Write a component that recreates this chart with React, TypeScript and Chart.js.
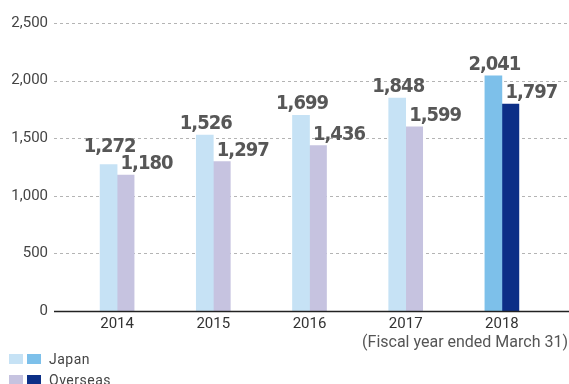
import React, { useEffect, useRef } from "react";
import { Chart, registerables } from "chart.js";

Chart.register(...registerables);

const years = ["2014", "2015", "2016", "2017", "2018"];
const japan = [1272, 1526, 1699, 1848, 2041];
const overseas = [1180, 1297, 1436, 1599, 1797];
const japanColors = ["#c6e2f5", "#c6e2f5", "#c6e2f5", "#c6e2f5", "#7dc0ea"];
const overseasColors = ["#c6c3e0", "#c6c3e0", "#c6c3e0", "#c6c3e0", "#0c2f87"];
const yTicks = [0, 500, 1000, 1500, 2000, 2500];

const W = 569;
const H = 384;
const GRID_LEFT = 54;
const LABEL_CAP = 15;

const fmt = (v: number) => v.toLocaleString("en-US");

const customPlugin = {
  id: "custom",
  beforeDatasetsDraw(chart: any) {
    const ctx = chart.ctx;
    const y = chart.scales.y;
    ctx.save();
    ctx.strokeStyle = "#b4b4b4";
    ctx.lineWidth = 1;
    ctx.setLineDash([3, 3]);
    yTicks.forEach((t) => {
      if (t === 0) return;
      const py = Math.round(y.getPixelForValue(t)) + 0.5;
      ctx.beginPath();
      ctx.moveTo(GRID_LEFT, py);
      ctx.lineTo(W, py);
      ctx.stroke();
    });
    ctx.restore();
  },
  afterDatasetsDraw(chart: any) {
    const ctx = chart.ctx;
    const y = chart.scales.y;
    ctx.save();
    const py0 = Math.round(y.getPixelForValue(0));
    ctx.strokeStyle = "#222";
    ctx.lineWidth = 1.5;
    ctx.beginPath();
    ctx.moveTo(GRID_LEFT, py0 + 0.5);
    ctx.lineTo(W, py0 + 0.5);
    ctx.stroke();
    ctx.fillStyle = "#575757";
    ctx.font = "bold 20px 'DejaVu Sans Condensed', 'DejaVu Sans', sans-serif";
    (ctx as any).letterSpacing = "-1px";
    ctx.textBaseline = "alphabetic";
    const m0 = chart.getDatasetMeta(0);
    const m1 = chart.getDatasetMeta(1);
    m1.data.forEach((el: any, i: number) => {
      const oBase = el.y - 6;
      ctx.textAlign = "left";
      ctx.fillText(fmt(overseas[i]), el.x - 5, oBase);
      const j = m0.data[i];
      const jBase = Math.min(j.y - 6, oBase - LABEL_CAP - 2);
      ctx.textAlign = "center";
      ctx.fillText(fmt(japan[i]), j.x + 1, jBase);
    });
    (ctx as any).letterSpacing = "0px";
    ctx.restore();
  },
};

export default function App() {
  const ref = useRef<HTMLCanvasElement>(null);
  useEffect(() => {
    if (!ref.current) return;
    const chart = new Chart(ref.current, {
      type: "bar",
      data: {
        labels: years,
        datasets: [
          {
            label: "Japan",
            data: japan,
            backgroundColor: japanColors,
            barThickness: 17,
            borderWidth: 0,
          },
          {
            label: "Overseas",
            data: overseas,
            backgroundColor: overseasColors,
            barThickness: 17,
            borderWidth: 0,
          },
        ],
      },
      options: {
        animation: false,
        responsive: false,
        maintainAspectRatio: false,
        layout: { padding: { top: 23, right: 19, bottom: 0, left: 0 } },
        plugins: {
          legend: { display: false },
          tooltip: { enabled: false },
        },
        scales: {
          x: {
            grid: { display: false, drawTicks: false },
            border: { display: false },
            ticks: {
              color: "#333",
              font: { family: "Roboto, 'DejaVu Sans', sans-serif", size: 15 },
              padding: 4,
            },
            afterFit: (s: any) => {
              s.height = 73;
              s.paddingLeft = 0;
              s.paddingRight = 0;
            },
          },
          y: {
            min: 0,
            max: 2500,
            grid: { display: false, drawTicks: false },
            border: { display: false },
            ticks: {
              stepSize: 500,
              color: "#444",
              font: { family: "Roboto, 'DejaVu Sans', sans-serif", size: 15 },
              padding: 21,
              callback: (v: any) => fmt(Number(v)),
            },
            afterFit: (s: any) => {
              s.width = 69;
              s.paddingTop = 0;
              s.paddingBottom = 0;
            },
          },
        },
      },
      plugins: [customPlugin],
    });
    return () => chart.destroy();
  }, []);

  const textFont = "Roboto, 'DejaVu Sans', sans-serif";
  const sq = (c: string, left: number, top: number) => (
    <div
      style={{ position: "absolute", left, top, width: 14, height: 10, background: c }}
    />
  );
  return (
    <div style={{ position: "fixed", left: 0, top: 0, width: W, height: H, overflow: "hidden", background: "#fff" }}>
      <canvas ref={ref} width={W} height={H} style={{ position: "absolute", left: 0, top: 0, width: W, height: H }} />
      <div
        style={{
          position: "absolute",
          right: 1,
          top: 333,
          fontFamily: textFont,
          fontSize: 16,
          color: "#555",
          whiteSpace: "nowrap",
          lineHeight: "18px",
        }}
      >
        (Fiscal year ended March 31)
      </div>
      {sq("#c6e2f5", 9, 354)}
      {sq("#7dc0ea", 27, 354)}
      <div style={{ position: "absolute", left: 49, top: 350, fontFamily: textFont, fontSize: 14, letterSpacing: "0.5px", color: "#444", lineHeight: "18px" }}>
        Japan
      </div>
      {sq("#c6c3e0", 9, 375)}
      {sq("#0c2f87", 27, 375)}
      <div style={{ position: "absolute", left: 49, top: 371, fontFamily: textFont, fontSize: 14, letterSpacing: "0.5px", color: "#444", lineHeight: "18px" }}>
        Overseas
      </div>
    </div>
  );
}
